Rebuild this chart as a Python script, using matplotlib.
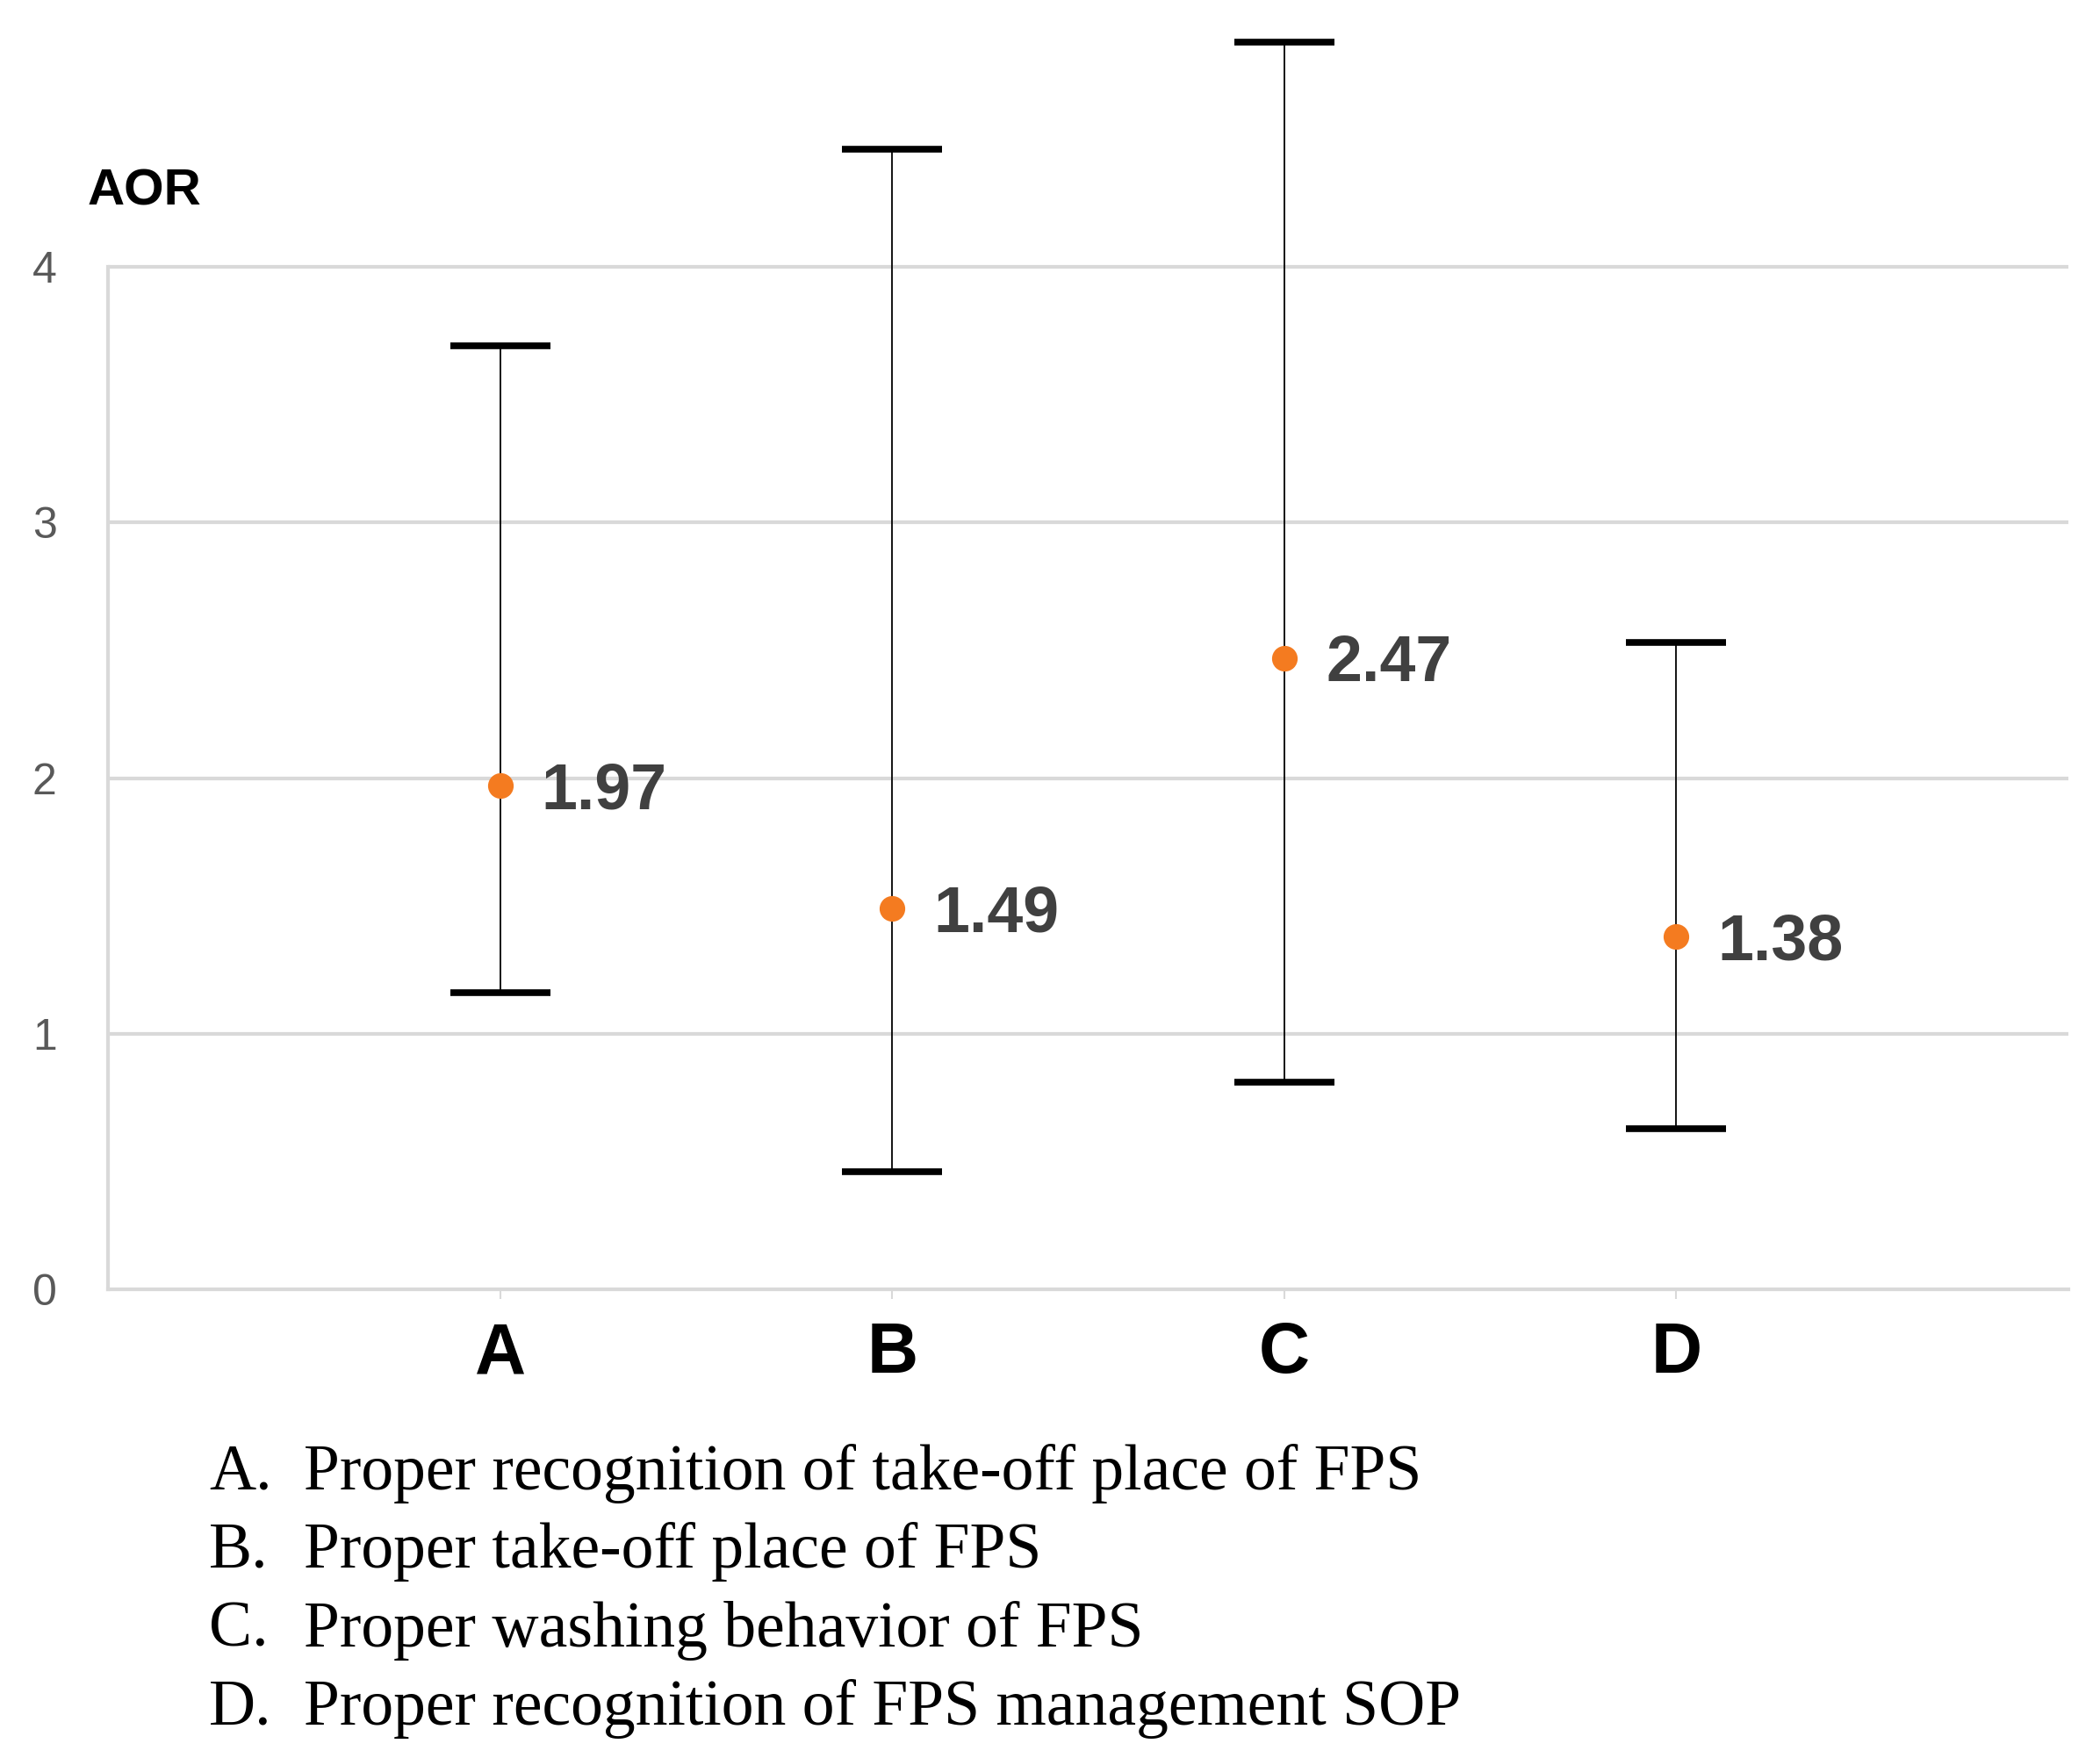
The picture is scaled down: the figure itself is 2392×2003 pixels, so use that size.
"""Adjusted odds ratios (AOR) with confidence intervals for FPS behaviours.

Draws four point estimates with their CI whiskers and a lettered key
below the plot, saved as ``out.png``.
"""

import matplotlib

matplotlib.use("Agg")

import matplotlib.pyplot as plt

CATEGORIES = ["A", "B", "C", "D"]
AOR = [1.97, 1.49, 2.47, 1.38]
CI_LOW = [1.16, 0.46, 0.81, 0.63]
CI_HIGH = [3.69, 4.46, 4.88, 2.53]
Y_TICKS = [0, 1, 2, 3, 4]
KEY_LABELS = [
    "Proper recognition of take-off place of FPS",
    "Proper take-off place of FPS",
    "Proper washing behavior of FPS",
    "Proper recognition of FPS management SOP",
]

W, H = 2392, 2003
DPI = 100
GRID_COLOR = "#D9D9D9"
DOT_COLOR = "#F47B20"
SANS = "Liberation Sans"


def main() -> None:
    fig = plt.figure(figsize=(W / DPI, H / DPI), dpi=DPI)
    fig.patch.set_facecolor("white")

    left, right = 123, 2356
    bottom, top = 1469, 13
    ax = fig.add_axes([left / W, 1 - bottom / H, (right - left) / W, (bottom - top) / H])

    xs = list(range(1, len(CATEGORIES) + 1))
    yerr = [
        [v - lo for v, lo in zip(AOR, CI_LOW)],
        [hi - v for v, hi in zip(AOR, CI_HIGH)],
    ]
    ax.errorbar(
        xs, AOR, yerr=yerr, fmt="none", ecolor="black",
        elinewidth=1.3, capsize=41, capthick=5.5, zorder=3,
    )
    ax.plot(xs, AOR, "o", color=DOT_COLOR, markersize=20, zorder=4)

    for x, v in zip(xs, AOR):
        ax.annotate(
            f"{v:.2f}", (x, v), textcoords="offset points", xytext=(34, -5),
            ha="left", va="center", fontsize=53, fontweight="bold",
            color="#404040", family=SANS,
        )

    ax.set_xlim(0, 5)
    ax.set_ylim(0, 5)
    ax.set_yticks(Y_TICKS)
    ax.set_xticks(xs)
    ax.set_xticklabels(CATEGORIES, fontsize=58, fontweight="bold", family=SANS)
    ax.set_yticklabels([str(t) for t in Y_TICKS], fontsize=36, color="#595959",
                       family=SANS)
    ax.tick_params(axis="x", length=8, width=1.5, color=GRID_COLOR, pad=18)
    ax.tick_params(axis="y", length=0, pad=42)

    for y in Y_TICKS[1:]:
        ax.axhline(y, color=GRID_COLOR, linewidth=3, zorder=1)
    for side in ("top", "right"):
        ax.spines[side].set_visible(False)
    for side in ("left", "bottom"):
        ax.spines[side].set_color(GRID_COLOR)
        ax.spines[side].set_linewidth(3)
    ax.spines["left"].set_bounds(0, 4)

    fig.text(100 / W, 1 - 219 / H, "AOR", fontsize=42, fontweight="bold",
             ha="left", va="center", family=SANS)

    line_y = [1679, 1768, 1858, 1947]
    for cat, label, y in zip(CATEGORIES, KEY_LABELS, line_y):
        fig.text(238 / W, 1 - y / H, f"{cat}.", fontsize=53, ha="left", va="center",
                 family="Liberation Serif")
        fig.text(346 / W, 1 - y / H, label, fontsize=53, ha="left", va="center",
                 family="Liberation Serif")

    fig.savefig("out.png", dpi=DPI, facecolor="white")
    plt.close(fig)


if __name__ == "__main__":
    main()
